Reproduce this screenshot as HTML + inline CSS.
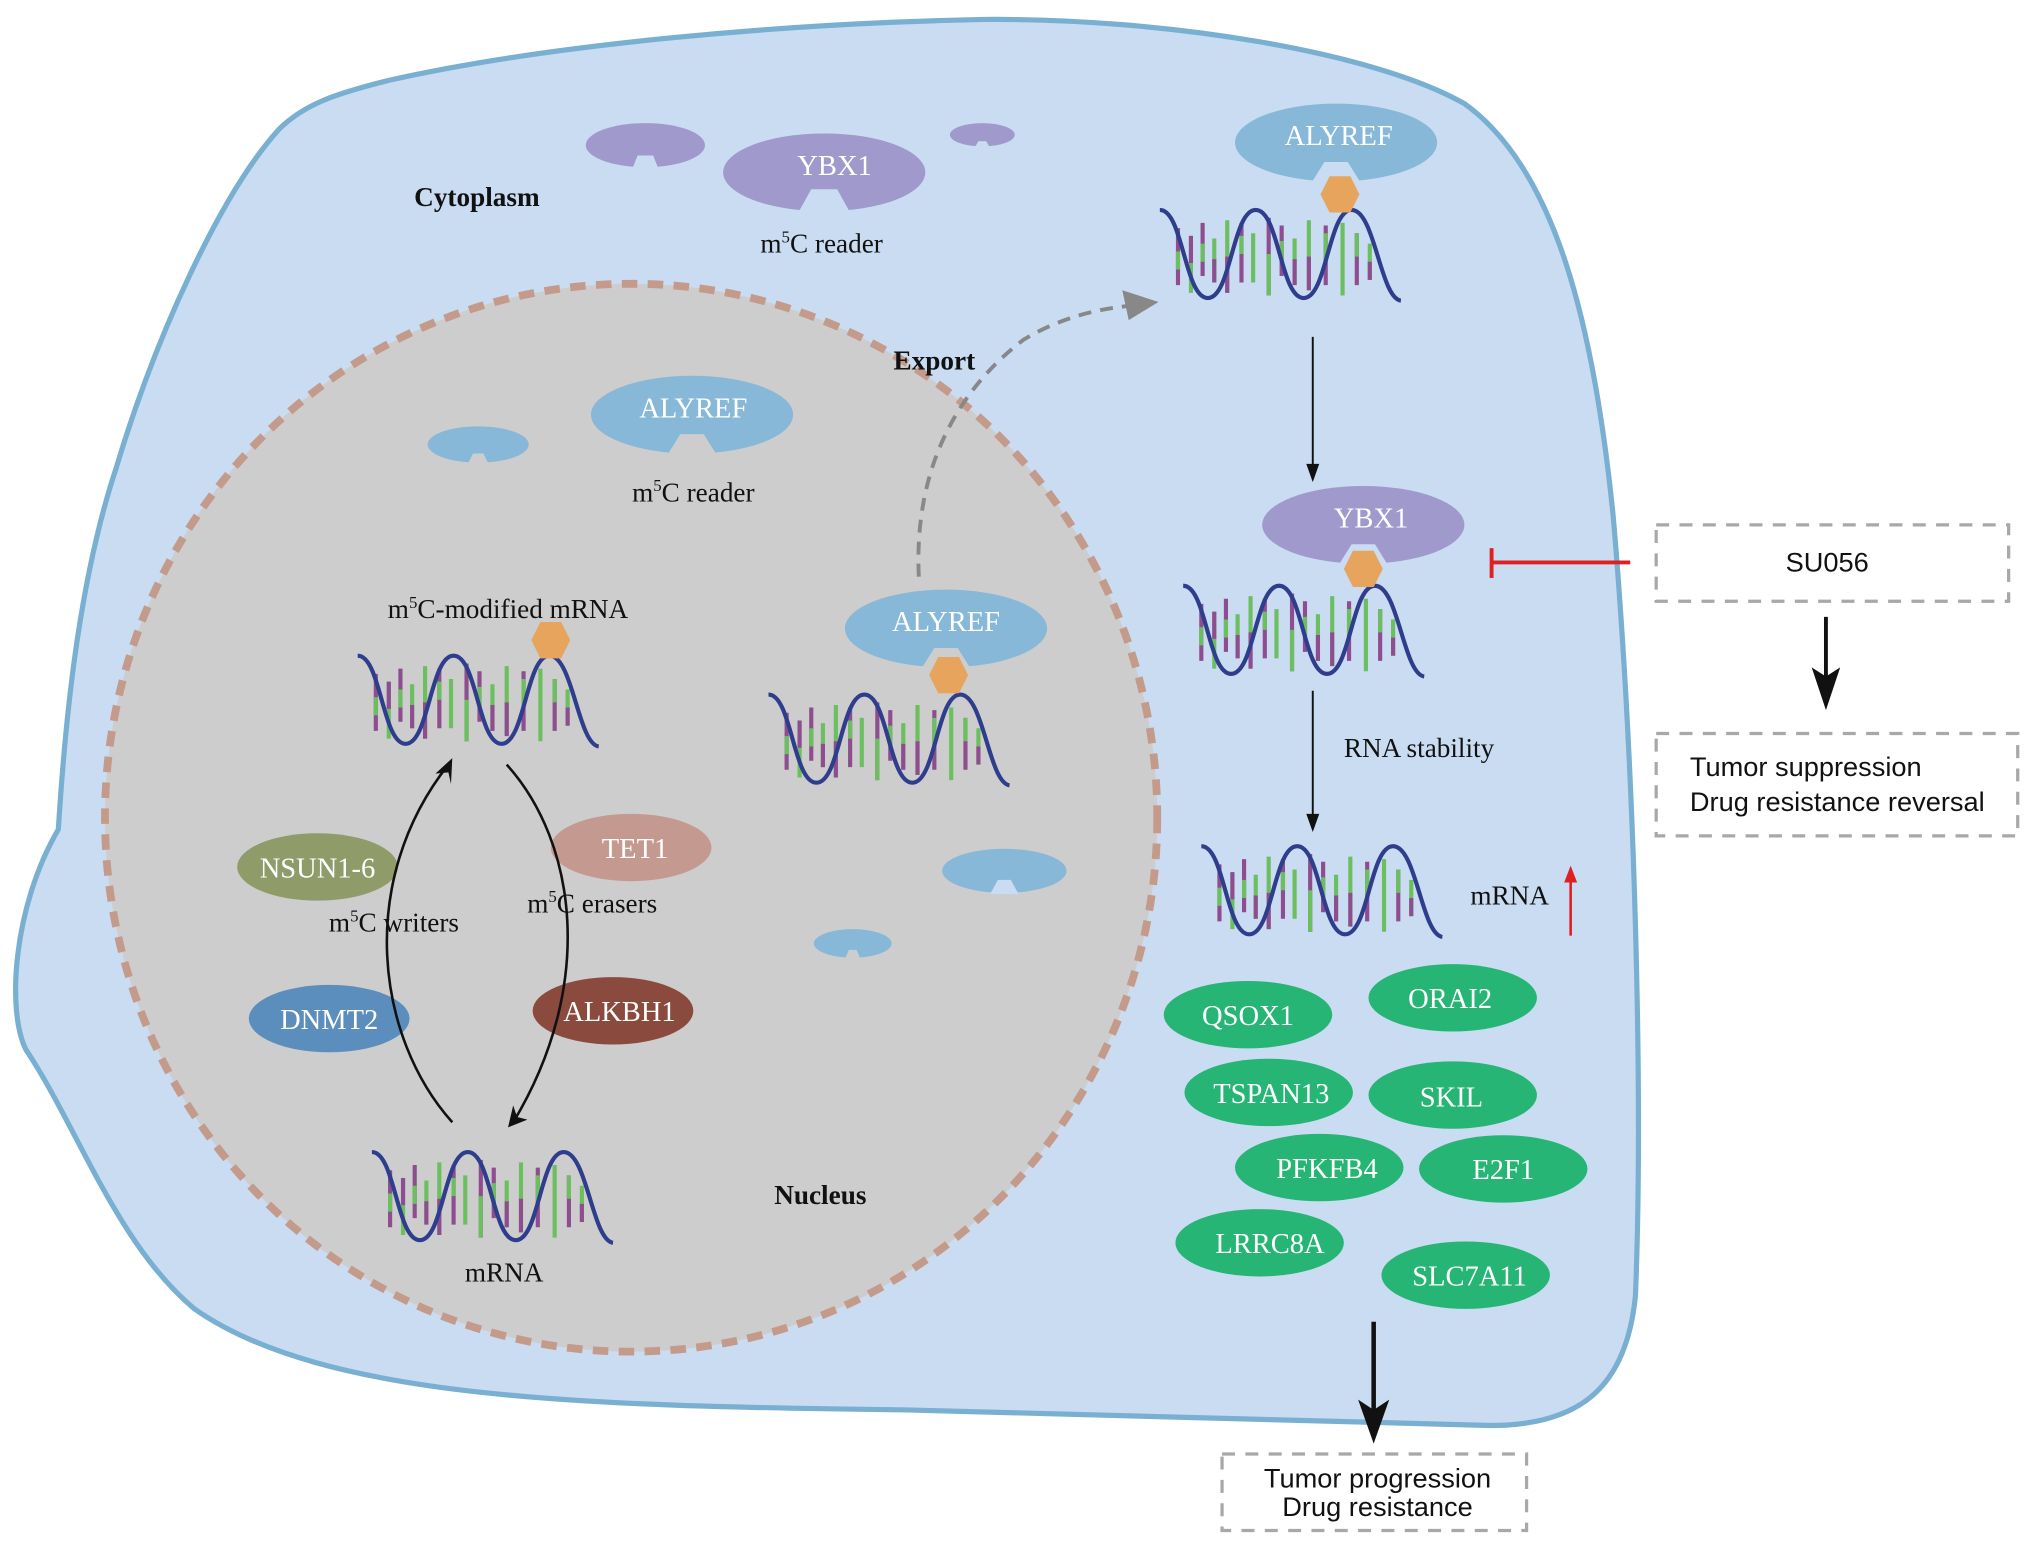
<!DOCTYPE html>
<html><head><meta charset="utf-8"><style>
html,body{margin:0;padding:0;background:#fff;}
svg{display:block;}
.a{font-family:"Liberation Sans",sans-serif;}
.w{fill:#fff;font-family:"Liberation Serif",serif;font-size:22px;text-anchor:middle;font-stretch:condensed;}
.k{fill:#111;font-family:"Liberation Serif",serif;font-size:21px;text-anchor:middle;}
.b{fill:#111;font-family:"Liberation Serif",serif;font-size:21px;font-weight:bold;text-anchor:middle;}
</style></head><body>
<svg width="2032" height="1546" viewBox="0 0 1568 1193" xmlns="http://www.w3.org/2000/svg">
<defs>
<g id="hx">
 <g stroke-width="3.2">
  <line x1="14" y1="18" x2="14" y2="62" stroke="#8d4d8f"/><line x1="14" y1="36" x2="14" y2="50" stroke="#6cbf5f"/>
  <line x1="24" y1="24" x2="24" y2="68" stroke="#6cbf5f"/><line x1="24" y1="24" x2="24" y2="45" stroke="#8d4d8f"/>
  <line x1="33" y1="14" x2="33" y2="55" stroke="#8d4d8f"/><line x1="33" y1="30" x2="33" y2="44" stroke="#6cbf5f"/>
  <line x1="42" y1="26" x2="42" y2="60" stroke="#6cbf5f"/><line x1="42" y1="42" x2="42" y2="60" stroke="#8d4d8f"/>
  <line x1="52" y1="12" x2="52" y2="68" stroke="#6cbf5f"/><line x1="52" y1="40" x2="52" y2="68" stroke="#8d4d8f"/>
  <line x1="63" y1="14" x2="63" y2="60" stroke="#8d4d8f"/><line x1="63" y1="24" x2="63" y2="38" stroke="#6cbf5f"/>
  <line x1="72" y1="22" x2="72" y2="60" stroke="#6cbf5f"/>
  <line x1="84" y1="10" x2="84" y2="70" stroke="#8d4d8f"/><line x1="84" y1="38" x2="84" y2="70" stroke="#6cbf5f"/>
  <line x1="94" y1="16" x2="94" y2="55" stroke="#8d4d8f"/><line x1="94" y1="28" x2="94" y2="42" stroke="#6cbf5f"/>
  <line x1="104" y1="26" x2="104" y2="62" stroke="#6cbf5f"/><line x1="104" y1="42" x2="104" y2="62" stroke="#8d4d8f"/>
  <line x1="115" y1="12" x2="115" y2="66" stroke="#6cbf5f"/><line x1="115" y1="40" x2="115" y2="66" stroke="#8d4d8f"/>
  <line x1="128" y1="16" x2="128" y2="62" stroke="#8d4d8f"/><line x1="128" y1="22" x2="128" y2="42" stroke="#6cbf5f"/>
  <line x1="141" y1="14" x2="141" y2="70" stroke="#6cbf5f"/>
  <line x1="152" y1="22" x2="152" y2="62" stroke="#8d4d8f"/><line x1="152" y1="22" x2="152" y2="40" stroke="#6cbf5f"/>
  <line x1="162" y1="30" x2="162" y2="58" stroke="#6cbf5f"/><line x1="162" y1="44" x2="162" y2="58" stroke="#8d4d8f"/>
 </g>
 <path d="M0,4 C18,4 19,72 37,72 C55,72 56,4 74,4 C92,4 93,72 111,72 C129,72 130,4 148,4 C166,4 170,72 186,74" fill="none" stroke="#2e3d8c" stroke-width="3.2"/>
</g>
<polygon id="hex" points="-8,-14 8,-14 15,0 8,14 -8,14 -15,0" fill="#e6a45c"/>
</defs>

<path d="M215,100 C235,80 260,72 300,62 C420,35 600,18 760,15 C900,14 1060,40 1130,80 C1200,130 1230,250 1245,400 C1262,600 1268,850 1262,1000 C1255,1070 1220,1100 1150,1100 L700,1088 C450,1085 250,1080 150,1010 C90,960 60,870 20,810 C5,780 10,700 45,640 C50,560 60,450 90,360 C120,260 170,150 215,100 Z" fill="#c9dcf2" stroke="#79afd1" stroke-width="4"/>

<ellipse cx="487" cy="631" rx="406" ry="412" fill="#cdcdcd" stroke="#c49a8a" stroke-width="6" stroke-dasharray="12 8"/>

<ellipse cx="498" cy="112" rx="46" ry="17" fill="#a099cc"/><polygon points="492,120 504,120 508,130 488,130" fill="#c9dcf2"/>
<ellipse cx="636" cy="133" rx="78" ry="30" fill="#a099cc"/><polygon points="626,146 646,146 656,164 616,164" fill="#c9dcf2"/>
<text x="644" y="135" class="w">YBX1</text>
<ellipse cx="758" cy="104" rx="25" ry="9" fill="#a099cc"/><polygon points="755,109 761,109 764,114 752,114" fill="#c9dcf2"/>
<text x="634" y="195" class="k">m<tspan font-size="13" dy="-8">5</tspan><tspan dy="8">C reader</tspan></text>
<text x="368" y="159" class="b">Cytoplasm</text>

<ellipse cx="369" cy="343" rx="39" ry="14" fill="#87b8d8"/><polygon points="365,350 373,350 377,358 361,358" fill="#cdcdcd"/>
<ellipse cx="534" cy="320" rx="78" ry="30" fill="#87b8d8"/><polygon points="525,335 543,335 553,351 515,351" fill="#cdcdcd"/>
<text x="535" y="322" class="w">ALYREF</text>
<text x="535" y="387" class="k">m<tspan font-size="13" dy="-8">5</tspan><tspan dy="8">C reader</tspan></text>
<ellipse cx="775" cy="672" rx="48" ry="17" fill="#87b8d8"/><polygon points="770,679 780,679 786,690 764,690" fill="#c9dcf2"/>
<ellipse cx="658" cy="728" rx="30" ry="11" fill="#87b8d8"/><polygon points="655,733 661,733 664,740 652,740" fill="#cdcdcd"/>

<text x="392" y="477" class="k">m<tspan font-size="13" dy="-8">5</tspan><tspan dy="8">C-modified mRNA</tspan></text>
<use href="#hx" x="276" y="502"/>
<use href="#hex" x="425" y="494"/>

<ellipse cx="730" cy="485" rx="78" ry="30" fill="#87b8d8"/><polygon points="721,500 739,500 749,516 711,516" fill="#cdcdcd"/>
<text x="730" y="487" class="w">ALYREF</text>
<use href="#hx" x="593" y="532"/>
<use href="#hex" x="732" y="521"/>

<use href="#hx" x="287" y="885"/>
<text x="389" y="989" class="k">mRNA</text>

<ellipse cx="245" cy="669" rx="62" ry="26" fill="#8f9c6a"/><text x="245" y="677" class="w">NSUN1-6</text>
<ellipse cx="254" cy="786" rx="62" ry="26" fill="#5b8dbd"/><text x="254" y="794" class="w">DNMT2</text>
<ellipse cx="487" cy="654" rx="62" ry="26" fill="#c49a90"/><text x="490" y="662" class="w">TET1</text>
<ellipse cx="473" cy="780" rx="62" ry="26" fill="#8b4a3e"/><text x="478" y="788" class="w">ALKBH1</text>
<path d="M349,866 C290,800 275,680 346,590" fill="none" stroke="#111" stroke-width="2"/>
<polygon points="349,585 336,597 346,596 348,605" fill="#111"/>
<path d="M391,590 C445,650 460,760 396,866" fill="none" stroke="#111" stroke-width="2"/>
<polygon points="392,870 396,853 399,862 407,864" fill="#111"/>
<text x="304" y="719" class="k">m<tspan font-size="13" dy="-8">5</tspan><tspan dy="8">C writers</tspan></text>
<text x="457" y="704" class="k">m<tspan font-size="13" dy="-8">5</tspan><tspan dy="8">C erasers</tspan></text>
<text x="633" y="929" class="b">Nucleus</text>

<path d="M709,445 C705,360 740,300 790,262 C820,244 850,238 872,236" fill="none" stroke="#888" stroke-width="3" stroke-dasharray="10 7"/>
<polygon points="894,233 866,224 871,247" fill="#888"/>
<text x="721" y="285" class="b">Export</text>

<ellipse cx="1031" cy="110" rx="78" ry="30" fill="#87b8d8"/><polygon points="1022,125 1040,125 1050,141 1012,141" fill="#c9dcf2"/>
<text x="1033" y="112" class="w">ALYREF</text>
<use href="#hx" x="895" y="158"/>
<use href="#hex" x="1034" y="150"/>

<line x1="1013" y1="260" x2="1013" y2="362" stroke="#111" stroke-width="1.5"/>
<polygon points="1013,372 1008,358 1018,358" fill="#111"/>

<ellipse cx="1052" cy="405" rx="78" ry="30" fill="#a099cc"/><polygon points="1043,420 1061,420 1071,436 1033,436" fill="#c9dcf2"/>
<text x="1058" y="407" class="w">YBX1</text>
<use href="#hx" x="913" y="448"/>
<use href="#hex" x="1052" y="439"/>

<line x1="1013" y1="533" x2="1013" y2="632" stroke="#111" stroke-width="1.5"/>
<polygon points="1013,642 1008,628 1018,628" fill="#111"/>
<text x="1095" y="584" class="k">RNA stability</text>

<use href="#hx" x="927" y="649"/>
<text x="1165" y="698" class="k">mRNA</text>
<line x1="1212" y1="722" x2="1212" y2="678" stroke="#e02020" stroke-width="2"/>
<polygon points="1212,668 1207,681 1217,681" fill="#e02020"/>

<line x1="1258" y1="434" x2="1150" y2="434" stroke="#e02020" stroke-width="3"/>
<line x1="1151" y1="423" x2="1151" y2="446" stroke="#e02020" stroke-width="3"/>

<rect x="1278" y="405" width="272" height="59" fill="#fff" stroke="#a8a8a8" stroke-width="2.5" stroke-dasharray="10 8"/>
<text x="1410" y="441" class="a" font-size="21" text-anchor="middle" fill="#111">SU056</text>
<line x1="1409" y1="476" x2="1409" y2="525" stroke="#111" stroke-width="3"/>
<polygon points="1409,548 1398,515 1409,522 1420,515" fill="#111"/>
<rect x="1278" y="566" width="279" height="79" fill="#fff" stroke="#a8a8a8" stroke-width="2.5" stroke-dasharray="10 8"/>
<text x="1304" y="599" class="a" font-size="21" fill="#111">Tumor suppression</text>
<text x="1304" y="626" class="a" font-size="21" fill="#111">Drug resistance reversal</text>

<g fill="#26b574">
<ellipse cx="963" cy="783" rx="65" ry="26"/>
<ellipse cx="1121" cy="770" rx="65" ry="26"/>
<ellipse cx="979" cy="843" rx="65" ry="26"/>
<ellipse cx="1121" cy="845" rx="65" ry="26"/>
<ellipse cx="1018" cy="901" rx="65" ry="26"/>
<ellipse cx="1160" cy="902" rx="65" ry="26"/>
<ellipse cx="972" cy="959" rx="65" ry="26"/>
<ellipse cx="1131" cy="984" rx="65" ry="26"/>
</g>
<text x="963" y="791" class="w">QSOX1</text>
<text x="1119" y="778" class="w">ORAI2</text>
<text x="981" y="851" class="w">TSPAN13</text>
<text x="1120" y="854" class="w">SKIL</text>
<text x="1024" y="909" class="w">PFKFB4</text>
<text x="1160" y="910" class="w">E2F1</text>
<text x="980" y="967" class="w">LRRC8A</text>
<text x="1134" y="992" class="w">SLC7A11</text>

<line x1="1060" y1="1020" x2="1060" y2="1090" stroke="#111" stroke-width="3.5"/>
<polygon points="1060,1114 1048,1080 1060,1088 1072,1080" fill="#111"/>
<rect x="943" y="1122" width="235" height="59" fill="#fff" stroke="#a8a8a8" stroke-width="2.5" stroke-dasharray="10 8"/>
<text x="1063" y="1148" class="a" font-size="21" text-anchor="middle" fill="#111">Tumor progression</text>
<text x="1063" y="1170" class="a" font-size="21" text-anchor="middle" fill="#111">Drug resistance</text>
</svg>
</body></html>
